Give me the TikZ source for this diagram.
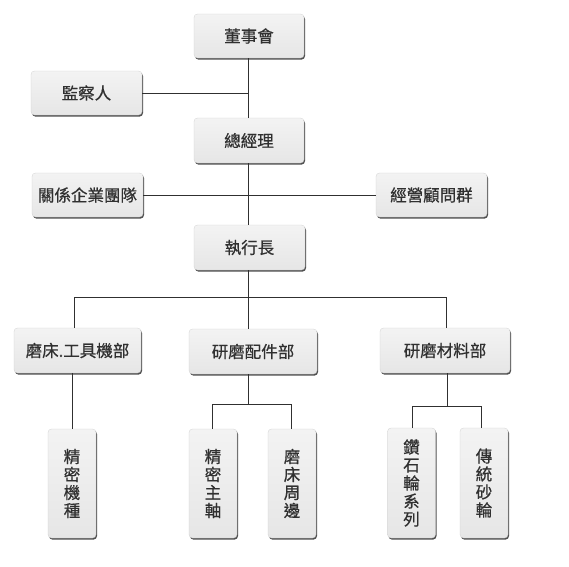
\documentclass[tikz,border=0pt]{standalone}
\usepackage{fontspec}
\newfontfamily\cjk[FakeBold=0.6]{Noto Sans CJK TC}
\usetikzlibrary{calc}
\definecolor{txt}{HTML}{303030}
\definecolor{boxtop}{HTML}{F3F3F3}
\definecolor{boxbot}{HTML}{E6E6E6}
\definecolor{shad}{HTML}{505050}
\tikzset{
  orgbox/.style={rounded corners=3.5pt, top color=boxtop, bottom color=boxbot,
    draw=boxbot!90!black, line width=0.3pt,
    preaction={fill=shad, transform canvas={shift={(1pt,-1.6pt)}}},
    text=txt, font=\cjk\fontsize{16.5}{18}\selectfont, inner sep=0pt, anchor=center},
  hbox/.style={orgbox, minimum height=44pt},
  vbox/.style={orgbox, minimum width=48pt, minimum height=109pt, align=center, text width=20pt},
  link/.style={draw=txt, line width=0.9pt}
}
\begin{document}
\begin{tikzpicture}[x=1pt,y=-1pt]
\useasboundingbox (0,0) rectangle (569,566);
% top level
\node[hbox, minimum width=110pt] (ds) at (249,36) {董事會};
\node[hbox, minimum width=111pt] (jcr) at (86.5,93) {監察人};
\node[hbox, minimum width=110pt, minimum height=45pt] (gm) at (249,140.5) {總經理};
\node[hbox, minimum width=111pt] (rel) at (87.5,195) {關係企業團隊};
\node[hbox, minimum width=111pt] (adv) at (431.5,195) {經營顧問群};
\node[hbox, minimum width=111pt, minimum height=45pt] (ceo) at (249.5,247.5) {執行長};
% departments
\node[hbox, minimum width=127pt, minimum height=45pt] (dep1) at (77.5,350.5) {磨床.工具機部};
\node[hbox, minimum width=128pt, minimum height=45pt] (dep2) at (253,351.5) {研磨配件部};
\node[hbox, minimum width=130pt, minimum height=45pt] (dep3) at (445,350.5) {研磨材料部};
% sub units
\node[vbox] (s1) at (72,483.5) {精\\密\\機\\種};
\node[vbox] (s2a) at (213,483.5) {精\\密\\主\\軸};
\node[vbox] (s2b) at (292,483.5) {磨\\床\\周\\邊};
\node[vbox, minimum height=110pt] (s3a) at (411.5,483) {鑽\\石\\輪\\系\\列\\[-1pt]};
\node[vbox, minimum height=110pt] (s3b) at (484,483) {傳\\統\\砂\\輪\\[19pt]};
% connectors
\coordinate (bus) at (248,297);
\coordinate (bus2) at (248,404);
\coordinate (bus3) at (447.5,406.5);
\path[link] (ds.south -| bus) -- (gm.north -| bus);
\path[link] (jcr.east) -- (jcr.east -| bus);
\path[link] (gm.south -| bus) -- (ceo.north -| bus);
\path[link] (rel.east) -- (adv.west);
\path[link] (ceo.south -| bus) -- (dep2.north -| bus);
\path[link] (dep1.north -| 74.5,0) |- (bus) -| (dep3.north -| 446,0);
\path[link] (s1.north) -- (s1.north |- dep1.south);
\path[link] (dep2.south -| bus2) -- (bus2);
\path[link] (s2a.north -| 212,0) |- (bus2) -| (s2b.north -| 291,0);
\path[link] (dep3.south -| bus3) -- (bus3);
\path[link] (s3a.north -| 412.5,0) |- (bus3) -| (s3b.north -| 481.5,0);
\end{tikzpicture}
\end{document}
